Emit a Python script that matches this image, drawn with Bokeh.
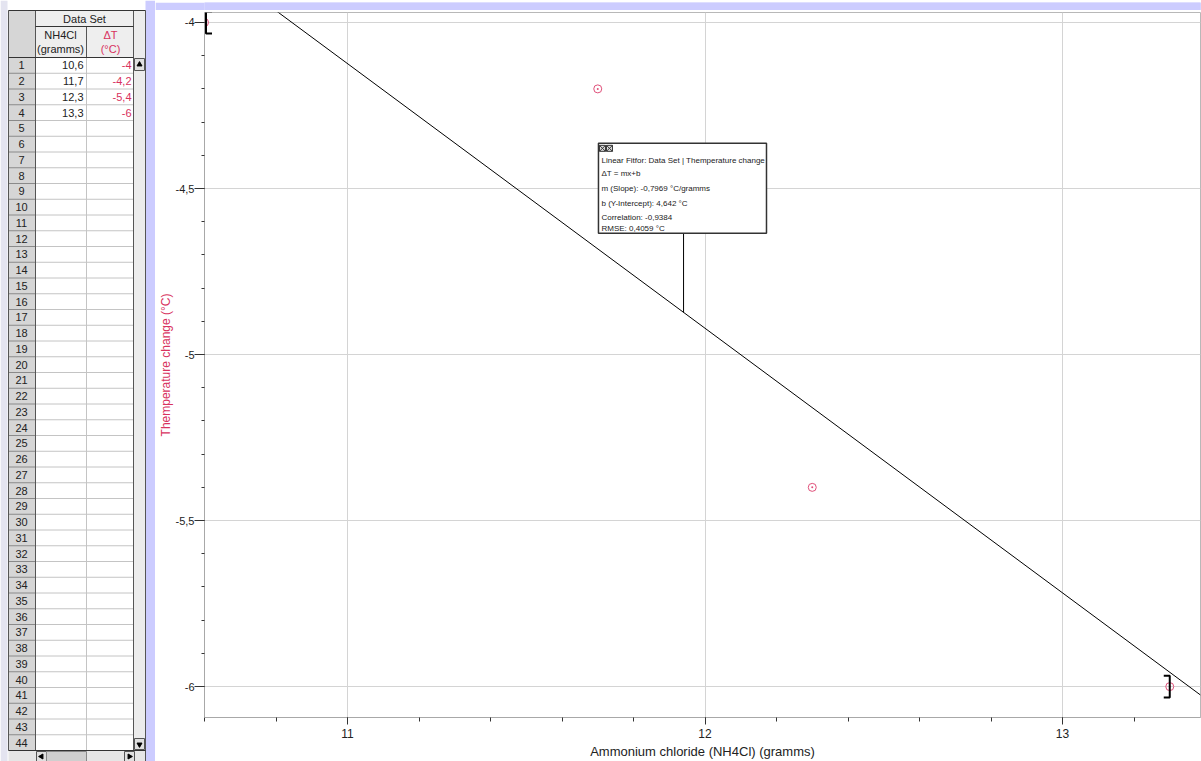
import numpy as np
from bokeh.plotting import figure
from bokeh.layouts import row, column
from bokeh.models import Range1d, FixedTicker, ColumnDataSource
from bokeh.core.properties import value
from bokeh.embed import file_html
from bokeh.resources import INLINE

# ---------------- data ----------------
nh4cl = [10.6, 11.7, 12.3, 13.3]
delta_t = [-4.0, -4.2, -5.4, -6.0]
fit_slope = -0.7969
fit_intercept = 4.642
fit_corr = -0.9384
fit_rmse = 0.4059
x_ticks = [11, 12, 13]
x_tick_labels = ["11", "12", "13"]
y_ticks = [-6, -5.5, -5, -4.5, -4]
y_tick_labels = ["-6", "-5,5", "-5", "-4,5", "-4"]
table_title = "Data Set"
col1_header = ["NH4Cl", "(gramms)"]
col2_header = ["ΔT", "(°C)"]
n_rows = 44
x_title = "Ammonium chloride (NH4Cl) (gramms)"
y_title = "Themperature change (°C)"
fit_title = "Linear Fitfor: Data Set | Themperature change"

FONT = "Liberation Sans"
RED = "#d8325e"
LAV = "#ccccff"


def fmt(v):
    return f"{v:g}".replace(".", ",")


# ---------------- table figure ----------------
tf = figure(width=155, height=761, x_range=Range1d(0, 155), y_range=Range1d(761, 0),
            toolbar_location=None, output_backend="svg", x_axis_location=None,
            y_axis_location=None, min_border=0, outline_line_color=None,
            background_fill_color="white", border_fill_color="white")
tf.grid.visible = False

ROW_TOP, ROW_H = 57.0, 15.75
row_tops = [ROW_TOP + i * ROW_H for i in range(n_rows)]
row_mid = [t + ROW_H / 2 for t in row_tops]

tf.quad(left=[0], right=[7], top=[0], bottom=[761], fill_color="#e4e4f0", line_color=None)
tf.quad(left=[145], right=[155], top=[0], bottom=[761], fill_color=LAV, line_color=None)
tf.quad(left=[8], right=[35], top=[10], bottom=[750], fill_color="#d6d6d6", line_color=None)
tf.quad(left=[35], right=[133], top=[10], bottom=[57], fill_color="#eeeeee", line_color=None)
tf.quad(left=[133], right=[145], top=[10], bottom=[750], fill_color="#ececec", line_color=None)
tf.quad(left=[8], right=[145], top=[750], bottom=[761], fill_color="#e6e6e6", line_color=None)

# grid lines
bounds = [ROW_TOP + i * ROW_H for i in range(1, n_rows)]
tf.segment(x0=[35] * len(bounds), x1=[133] * len(bounds), y0=bounds, y1=bounds,
           line_color="#c4c4c4", line_width=1)
tf.segment(x0=[8] * len(bounds), x1=[35] * len(bounds), y0=bounds, y1=bounds,
           line_color="#8a8a8a", line_width=1)
tf.segment(x0=[86], x1=[86], y0=[57], y1=[750], line_color="#c4c4c4")
tf.segment(x0=[8, 35, 86, 133, 145], x1=[8, 35, 86, 133, 145],
           y0=[10, 10, 26, 10, 10], y1=[750, 750, 57, 750, 761],
           line_color="#555555", line_width=1)
tf.segment(x0=[8, 35, 8, 8], x1=[145, 133, 133, 145], y0=[10, 26, 57, 750], y1=[10, 26, 57, 750],
           line_color="#333333", line_width=1)

TXT = dict(text_baseline="middle", text_font=value(FONT), text_font_size="11px")
# header texts
tf.text(x=[84], y=[18], text=[table_title], text_align="center", text_color="#222222", **TXT)
tf.text(x=[60, 60], y=[34, 48], text=col1_header, text_align="center", text_color="#222222", **TXT)
tf.text(x=[110, 110], y=[34, 48], text=col2_header, text_align="center", text_color=RED, **TXT)

# row numbers
tf.text(x=[21] * n_rows, y=row_mid, text=[str(i + 1) for i in range(n_rows)],
        text_align="center", text_color="#222222", **TXT)
# values
tf.text(x=[83] * len(nh4cl), y=row_mid[:len(nh4cl)], text=[fmt(v) for v in nh4cl],
        text_align="right", text_color="#222222", **TXT)
tf.text(x=[131] * len(delta_t), y=row_mid[:len(delta_t)], text=[fmt(v) for v in delta_t],
        text_align="right", text_color=RED, **TXT)

# scroll buttons
tf.quad(left=[134, 134, 36, 124], right=[144, 144, 46, 134], top=[58, 738, 751, 751],
        bottom=[70, 749, 761, 761], fill_color="#e0e0e0", line_color="#555555")
tf.quad(left=[46], right=[86], top=[751], bottom=[761], fill_color="#cfcfcf", line_color="#888888")
tf.scatter(x=[139], y=[64], marker="triangle", size=5, fill_color="black", line_color="black")
tf.scatter(x=[139], y=[744], marker="inverted_triangle", size=5, fill_color="black", line_color="black")
tf.scatter(x=[41], y=[756], marker="triangle", angle=np.pi / 2, size=5, fill_color="black", line_color="black")
tf.scatter(x=[129], y=[756], marker="triangle", angle=-np.pi / 2, size=5, fill_color="black", line_color="black")

# ---------------- top lavender strip ----------------
MAIN_W = 1046
strip = figure(width=MAIN_W, height=10, x_range=Range1d(0, 1), y_range=Range1d(0, 1),
               toolbar_location=None, output_backend="svg", x_axis_location=None,
               y_axis_location=None, min_border=0, outline_line_color=None,
               background_fill_color=LAV, border_fill_color=LAV)
strip.grid.visible = False
strip.quad(left=[0], right=[1], top=[1], bottom=[0], fill_color=LAV, line_color=None)

# ---------------- main chart ----------------
BL, BR, BT, BB = 49, 1, 2, 43
MAIN_H = 751
p = figure(width=MAIN_W, height=MAIN_H, x_range=Range1d(10.6, 13.386), y_range=Range1d(-6.093, -3.970),
           toolbar_location=None, output_backend="svg",
           min_border_left=BL, min_border_right=BR, min_border_top=BT, min_border_bottom=BB,
           background_fill_color="white", border_fill_color="white")
p.outline_line_color = "#b8b8b8"
px_x = (MAIN_W - BL - BR) / (p.x_range.end - p.x_range.start)
px_y = (MAIN_H - BT - BB) / (p.y_range.end - p.y_range.start)

p.xaxis.ticker = FixedTicker(ticks=x_ticks, minor_ticks=list(np.round(np.arange(10.6, 13.41, 0.2), 2)))
p.yaxis.ticker = FixedTicker(ticks=y_ticks, minor_ticks=list(np.round(np.arange(-6.1, -3.95, 0.1), 2)))
p.xaxis.major_label_overrides = dict(zip(x_ticks, x_tick_labels))
p.yaxis.major_label_overrides = dict(zip(y_ticks, y_tick_labels))

for ax in (p.xaxis, p.yaxis):
    ax.axis_line_color = "#a8a8a8"
    ax.major_tick_line_color = "#333333"
    ax.minor_tick_line_color = "#333333"
    ax.major_tick_in = 0
    ax.minor_tick_in = 0
    ax.major_label_text_font = FONT
    ax.major_label_text_color = "#222222"
    ax.axis_label_text_font = FONT
    ax.axis_label_text_font_style = "normal"

p.xaxis.major_label_text_font_size = "12px"
p.xaxis.axis_label_text_font_size = "13px"
p.xaxis.major_tick_out = 7
p.xaxis.minor_tick_out = 4
p.xaxis.major_label_standoff = 4
p.xaxis.axis_label_standoff = 3
p.xaxis.axis_label = x_title
p.xaxis.axis_label_text_color = "#222222"

p.yaxis.major_label_text_font_size = "11px"
p.yaxis.axis_label_text_font_size = "12px"
p.yaxis.major_tick_out = 10
p.yaxis.minor_tick_out = 3
p.yaxis.major_label_standoff = 0
p.yaxis.axis_label_standoff = 0
p.yaxis.axis_label = y_title
p.yaxis.axis_label_text_color = RED

p.grid.grid_line_color = "#d4d4d4"
p.grid.grid_line_width = 1

# fit line across the visible x range
fx = [p.x_range.start, p.x_range.end]
fy = [fit_slope * v + fit_intercept for v in fx]
p.line(fx, fy, line_color="black", line_width=1)

# data points
p.scatter(nh4cl, delta_t, marker="circle_dot", size=8, fill_color=None,
          line_color="#e0507a", line_width=1)

# fit range brackets (drawn around first and last point, sizes in screen px)
hh = 11 / px_y
sw = 6 / px_x
e = 1.5 / px_x
x0, y0 = nh4cl[0], delta_t[0]
x1, y1 = nh4cl[-1], delta_t[-1]
p.multi_line(xs=[[x0 + e + sw, x0 + e, x0 + e, x0 + e + sw], [x1 - sw, x1, x1, x1 - sw]],
             ys=[[y0 + hh, y0 + hh, y0 - hh, y0 - hh], [y1 + hh, y1 + hh, y1 - hh, y1 - hh]],
             line_color="black", line_width=2)

# fit annotation box
attach_x = 11.94
attach_y = fit_slope * attach_x + fit_intercept
box_l, box_r, box_t, box_b = 11.702, 12.172, -4.364, -4.635
p.segment(x0=[attach_x], y0=[attach_y], x1=[attach_x], y1=[box_b], line_color="black", line_width=1)
p.quad(left=[box_l], right=[box_r], top=[box_t], bottom=[box_b], fill_color="white",
       line_color="#333333", line_width=1.5)
ann_lines = [fit_title, "ΔT = mx+b",
             f"m (Slope): {fmt(fit_slope)} °C/gramms",
             f"b (Y-Intercept): {fmt(fit_intercept)} °C",
             f"Correlation: {fmt(fit_corr)}",
             f"RMSE: {fmt(fit_rmse)} °C"]
ann_src = ColumnDataSource(dict(x=[box_l] * len(ann_lines), y=[box_t] * len(ann_lines),
                                text=ann_lines, yo=[17, 30, 45, 60, 74, 85]))
p.text(x="x", y="y", text="text", y_offset="yo", x_offset=3, source=ann_src,
       text_align="left", text_baseline="middle", text_font=value(FONT),
       text_font_size="8px", text_color="#222222")
p.scatter(x=[box_l + 4 / px_x, box_l + 11 / px_x], y=[box_t - 5 / px_y, box_t - 5 / px_y],
          marker="square_x", size=6, fill_color="#dddddd", line_color="#333333", line_width=1)

layout = row(tf, column(strip, p))
open("out.html", "w").write(file_html(layout, INLINE))
